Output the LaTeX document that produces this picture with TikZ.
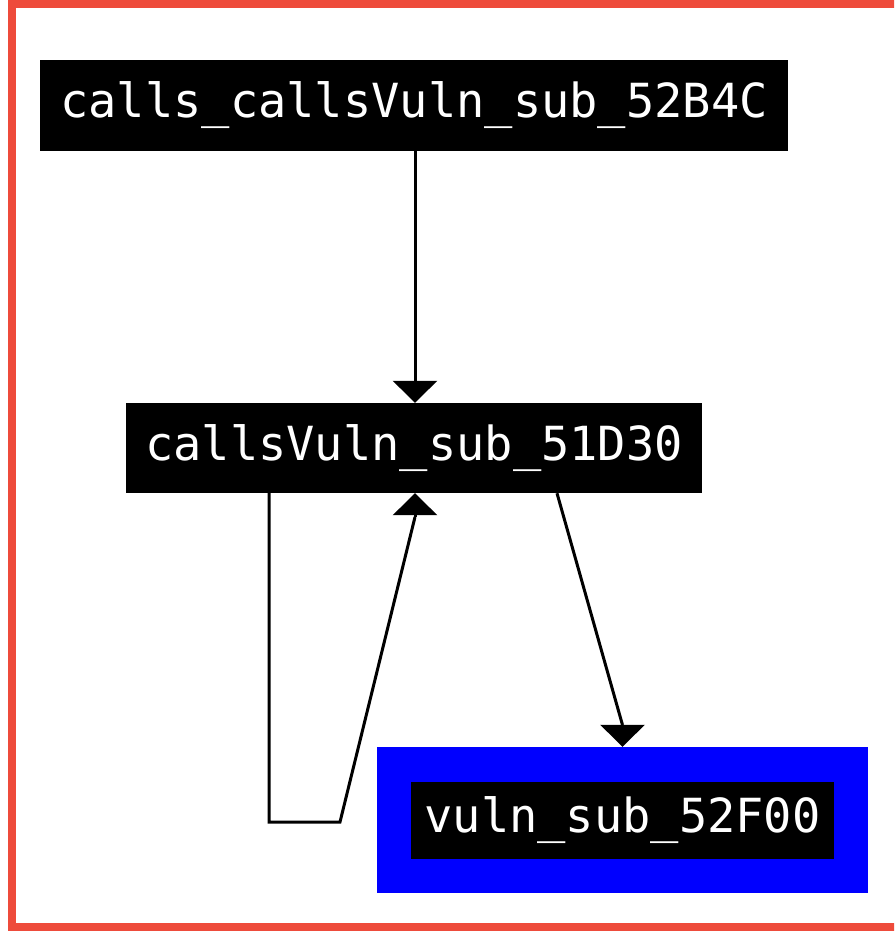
\documentclass[tikz,border=0pt]{standalone}
\usepackage{fontspec}
\newfontfamily\labelfont{DejaVu Sans Mono}
\usetikzlibrary{arrows.meta}
\definecolor{framered}{RGB}{238,75,59}
\definecolor{vulnblue}{RGB}{0,0,255}
\tikzset{
  fnbox/.style={fill=black, text=white, inner sep=0pt, font=\labelfont\fontsize{47}{50}\selectfont},
  edge/.style={line width=3pt, black},
  tip/.style={edge, -{Triangle[width=44pt,length=22pt]}},
}
\begin{document}
\begin{tikzpicture}[x=1pt,y=-1pt]
  \useasboundingbox (0,0) rectangle (894,931);
  \clip (0,0) rectangle (894,931);
  \fill[white] (0,0) rectangle (894,931);
  % outer frame
  \draw[framered, line width=8pt] (12,4) rectangle (910,927);

  % function nodes
  \node[fnbox, minimum width=748pt, minimum height=91pt] (top) at (414,105.5) {calls\_callsVuln\_sub\_52B4C};
  \node[fnbox, minimum width=576pt, minimum height=90pt] (mid) at (414,448) {callsVuln\_sub\_51D30};
  \node[fill=vulnblue, inner sep=0pt, minimum width=491pt, minimum height=146pt] (vulnouter) at (622.5,820) {};
  \node[fnbox, minimum width=423pt, minimum height=77pt] (vuln) at (622.5,820.5) {vuln\_sub\_52F00};

  % call edges
  \draw[tip] (top.south -| 415,0) -- (mid.north -| 415,0);

  \coordinate (loopA) at (269,822);
  \coordinate (loopB) at (340,822);
  \coordinate (loopC) at (415,517);
  \draw[edge] (mid.south -| loopA) -- (loopA) -- (loopB) -- (loopC);
  \draw[tip] (loopC) -- (mid.south -| loopC);

  \coordinate (downB) at (622.5,725);
  \draw[edge] (mid.south -| 557,0) -- (downB);
  \draw[tip] (downB) -- (vulnouter.north -| downB);
\end{tikzpicture}
\end{document}
